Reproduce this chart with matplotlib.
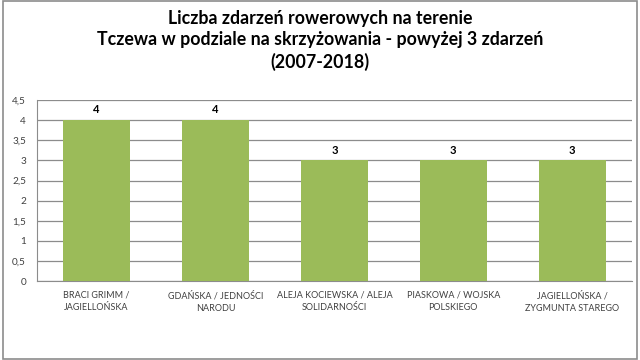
import matplotlib
matplotlib.use("Agg")
import matplotlib.pyplot as plt
from matplotlib.patches import Rectangle

# Data
categories = [
    "BRACI GRIMM /\nJAGIELLOŃSKA",
    "GDAŃSKA / JEDNOŚCI\nNARODU",
    "ALEJA KOCIEWSKA / ALEJA\nSOLIDARNOŚCI",
    "PIASKOWA / WOJSKA\nPOLSKIEGO",
    "JAGIELLOŃSKA /\nZYGMUNTA STAREGO",
]
values = [4, 4, 3, 3, 3]
y_ticks = [0, 0.5, 1, 1.5, 2, 2.5, 3, 3.5, 4, 4.5]

title = ("Liczba zdarzeń rowerowych na terenie\n"
         "Tczewa w podziale na skrzyżowania - powyżej 3 zdarzeń\n"
         "(2007-2018)")

plt.rcParams["font.family"] = ["Lato", "DejaVu Sans"]

fig = plt.figure(figsize=(6.4, 3.6), dpi=100)
ax = fig.add_axes([0.058, 0.219, 0.929, 0.503])

x = range(len(categories))
bars = ax.bar(x, values, width=0.56, color="#9BBB59", zorder=3)

# Value labels above bars
for xi, v in zip(x, values):
    ax.text(xi, v + 0.12, str(v), ha="center", va="bottom",
            fontsize=8, fontweight="bold", color="#000000")

ax.set_xlim(-0.5, len(categories) - 0.5)
ax.set_ylim(0, 4.5)
ax.set_yticks(y_ticks)
ax.set_yticklabels([("%g" % t).replace(".", ",") for t in y_ticks])
ax.set_xticks(list(x))
ax.set_xticklabels(categories, fontsize=6.5, linespacing=1.5)
ax.tick_params(axis="y", labelsize=7.2, length=0, pad=8, colors="#404040")
ax.tick_params(axis="x", length=0, pad=7, colors="#404040")

ax.yaxis.grid(True, color="#8c8c8c", linewidth=0.9, zorder=0)
for side in ["top", "right"]:
    ax.spines[side].set_visible(False)
ax.spines["left"].set_color("#8c8c8c")
ax.spines["bottom"].set_color("#8c8c8c")

fig.text(0.5, 0.972, title, ha="center", va="top", fontsize=12.8,
         fontweight="bold", linespacing=1.3)

# Outer chart border
fig.patches.append(Rectangle((0.004, 0.003), 0.991, 0.994, transform=fig.transFigure,
                             fill=False, edgecolor="#8c8c8c", linewidth=1.2))

fig.savefig("out.png", dpi=100)
